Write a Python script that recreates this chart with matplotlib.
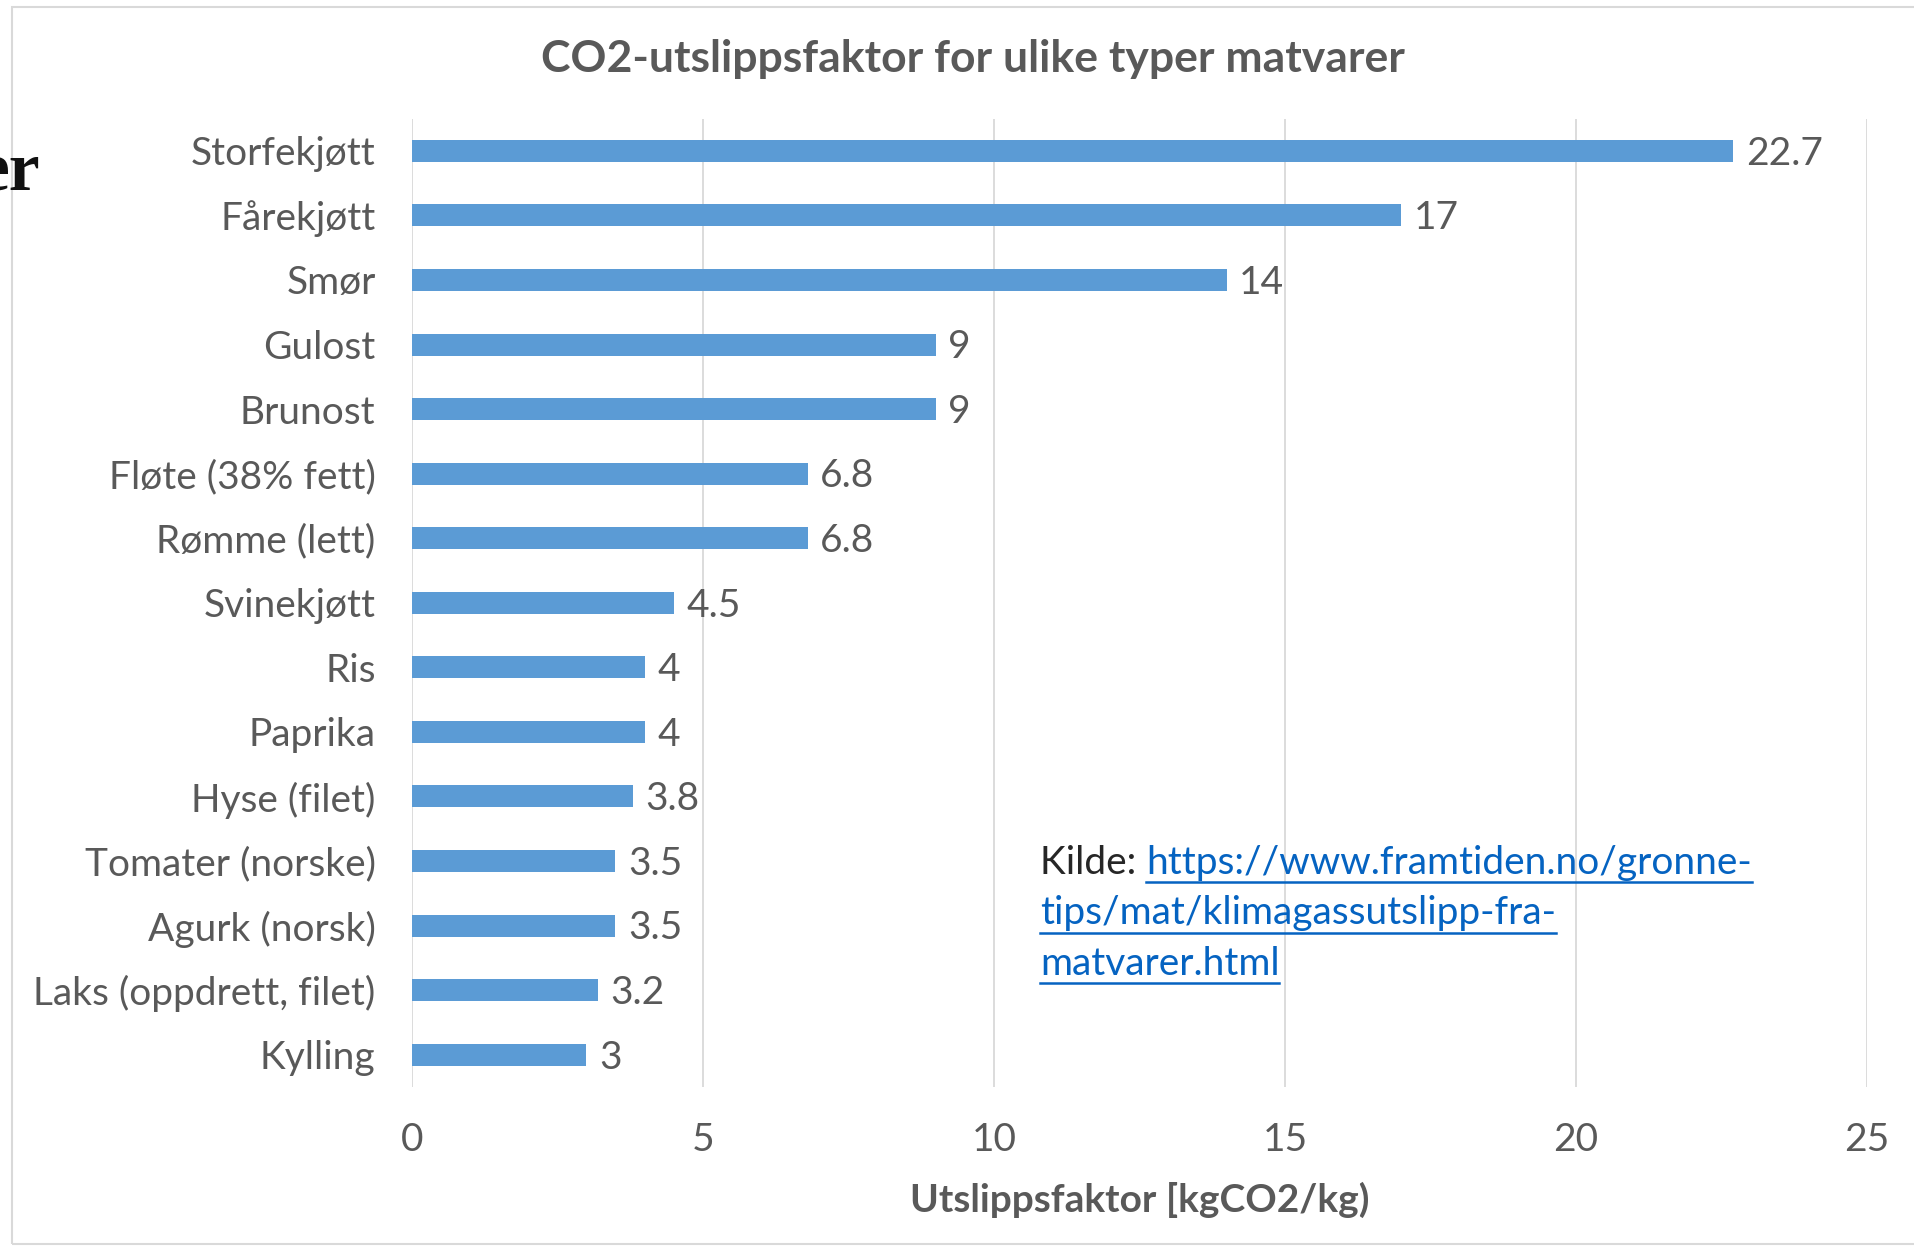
"""CO2 emission factor per food type, horizontal bar chart."""

import matplotlib
matplotlib.use("Agg")
import matplotlib.pyplot as plt
from matplotlib.lines import Line2D
from matplotlib.patches import Rectangle

foods = [
    "Storfekjøtt", "Fårekjøtt", "Smør", "Gulost", "Brunost",
    "Fløte (38% fett)", "Rømme (lett)", "Svinekjøtt", "Ris", "Paprika",
    "Hyse (filet)", "Tomater (norske)", "Agurk (norsk)",
    "Laks (oppdrett, filet)", "Kylling",
]
factors = [22.7, 17, 14, 9, 9, 6.8, 6.8, 4.5, 4, 4, 3.8, 3.5, 3.5, 3.2, 3]
value_labels = ["22.7", "17", "14", "9", "9", "6.8", "6.8", "4.5", "4", "4",
                "3.8", "3.5", "3.5", "3.2", "3"]
x_ticks = [0, 5, 10, 15, 20, 25]

BAR = "#5B9BD5"
GREY = "#595959"
LINK = "#0563C1"
FS = 28

plt.rcParams["font.family"] = ["Lato", "DejaVu Sans"]

fig = plt.figure(figsize=(19.15, 12.48), dpi=100)
ax = fig.add_axes([0.215, 0.129, 0.760, 0.776])

ypos = list(range(len(foods)))
ax.barh(ypos, factors, height=0.34, color=BAR, zorder=3)
for y, v, lab in zip(ypos, factors, value_labels):
    ax.annotate(lab, (v, y), xytext=(9, -2), textcoords="offset points",
                va="center", ha="left", fontsize=FS, color=GREY)

ax.set_xlim(0, 25)
ax.set_ylim(len(foods) - 0.5, -0.5)
ax.set_yticks(ypos)
ax.set_yticklabels(foods, fontsize=FS, color=GREY)
ax.set_xticks(x_ticks)
ax.set_xticklabels([str(t) for t in x_ticks], fontsize=FS, color=GREY)
ax.tick_params(axis="both", length=0)
ax.tick_params(axis="y", pad=26)
ax.tick_params(axis="x", pad=25)
ax.grid(axis="x", color="#D9D9D9", lw=1.3, zorder=0)
for s in ax.spines.values():
    s.set_visible(False)

ax.set_xlabel("Utslippsfaktor [kgCO2/kg)", fontsize=FS, fontweight="bold",
              color=GREY, labelpad=17)
fig.text(0.508, 0.953, "CO2-utslippsfaktor for ulike typer matvarer",
         ha="center", va="center", fontsize=32, fontweight="bold", color=GREY)

# border of the embedded chart and slide remnant
fig.add_artist(Rectangle((0.0063, 0.003), 1.2, 0.991, transform=fig.transFigure,
                         fill=False, ec="#D9D9D9", lw=1.5))
fig.text(0.021, 0.862, "er", ha="right", va="center", fontsize=50,
         fontweight="bold", family="Liberation Serif", color="#111111")

# source note with underlined link
x0 = 0.543
lines = [("Kilde: ", "https://www.framtiden.no/gronne-"),
         ("", "tips/mat/klimagassutslipp-fra-"),
         ("", "matvarer.html")]
fig.canvas.draw()
renderer = fig.canvas.get_renderer()
inv = fig.transFigure.inverted()
for i, (pre, link) in enumerate(lines):
    y = 0.300 - i * 0.0405
    x = x0
    if pre:
        t = fig.text(x, y, pre, fontsize=FS, color="#262626", va="baseline")
        bb = t.get_window_extent(renderer)
        x = inv.transform((bb.x1, bb.y0))[0]
    t = fig.text(x, y, link, fontsize=FS, color=LINK, va="baseline")
    bb = t.get_window_extent(renderer)
    xa, _ = inv.transform((bb.x0, bb.y0))
    xb, _ = inv.transform((bb.x1, bb.y0))
    fig.add_artist(Line2D([xa, xb], [y - 0.007, y - 0.007], color=LINK, lw=1.8,
                          transform=fig.transFigure))

fig.savefig("out.png", dpi=100)
